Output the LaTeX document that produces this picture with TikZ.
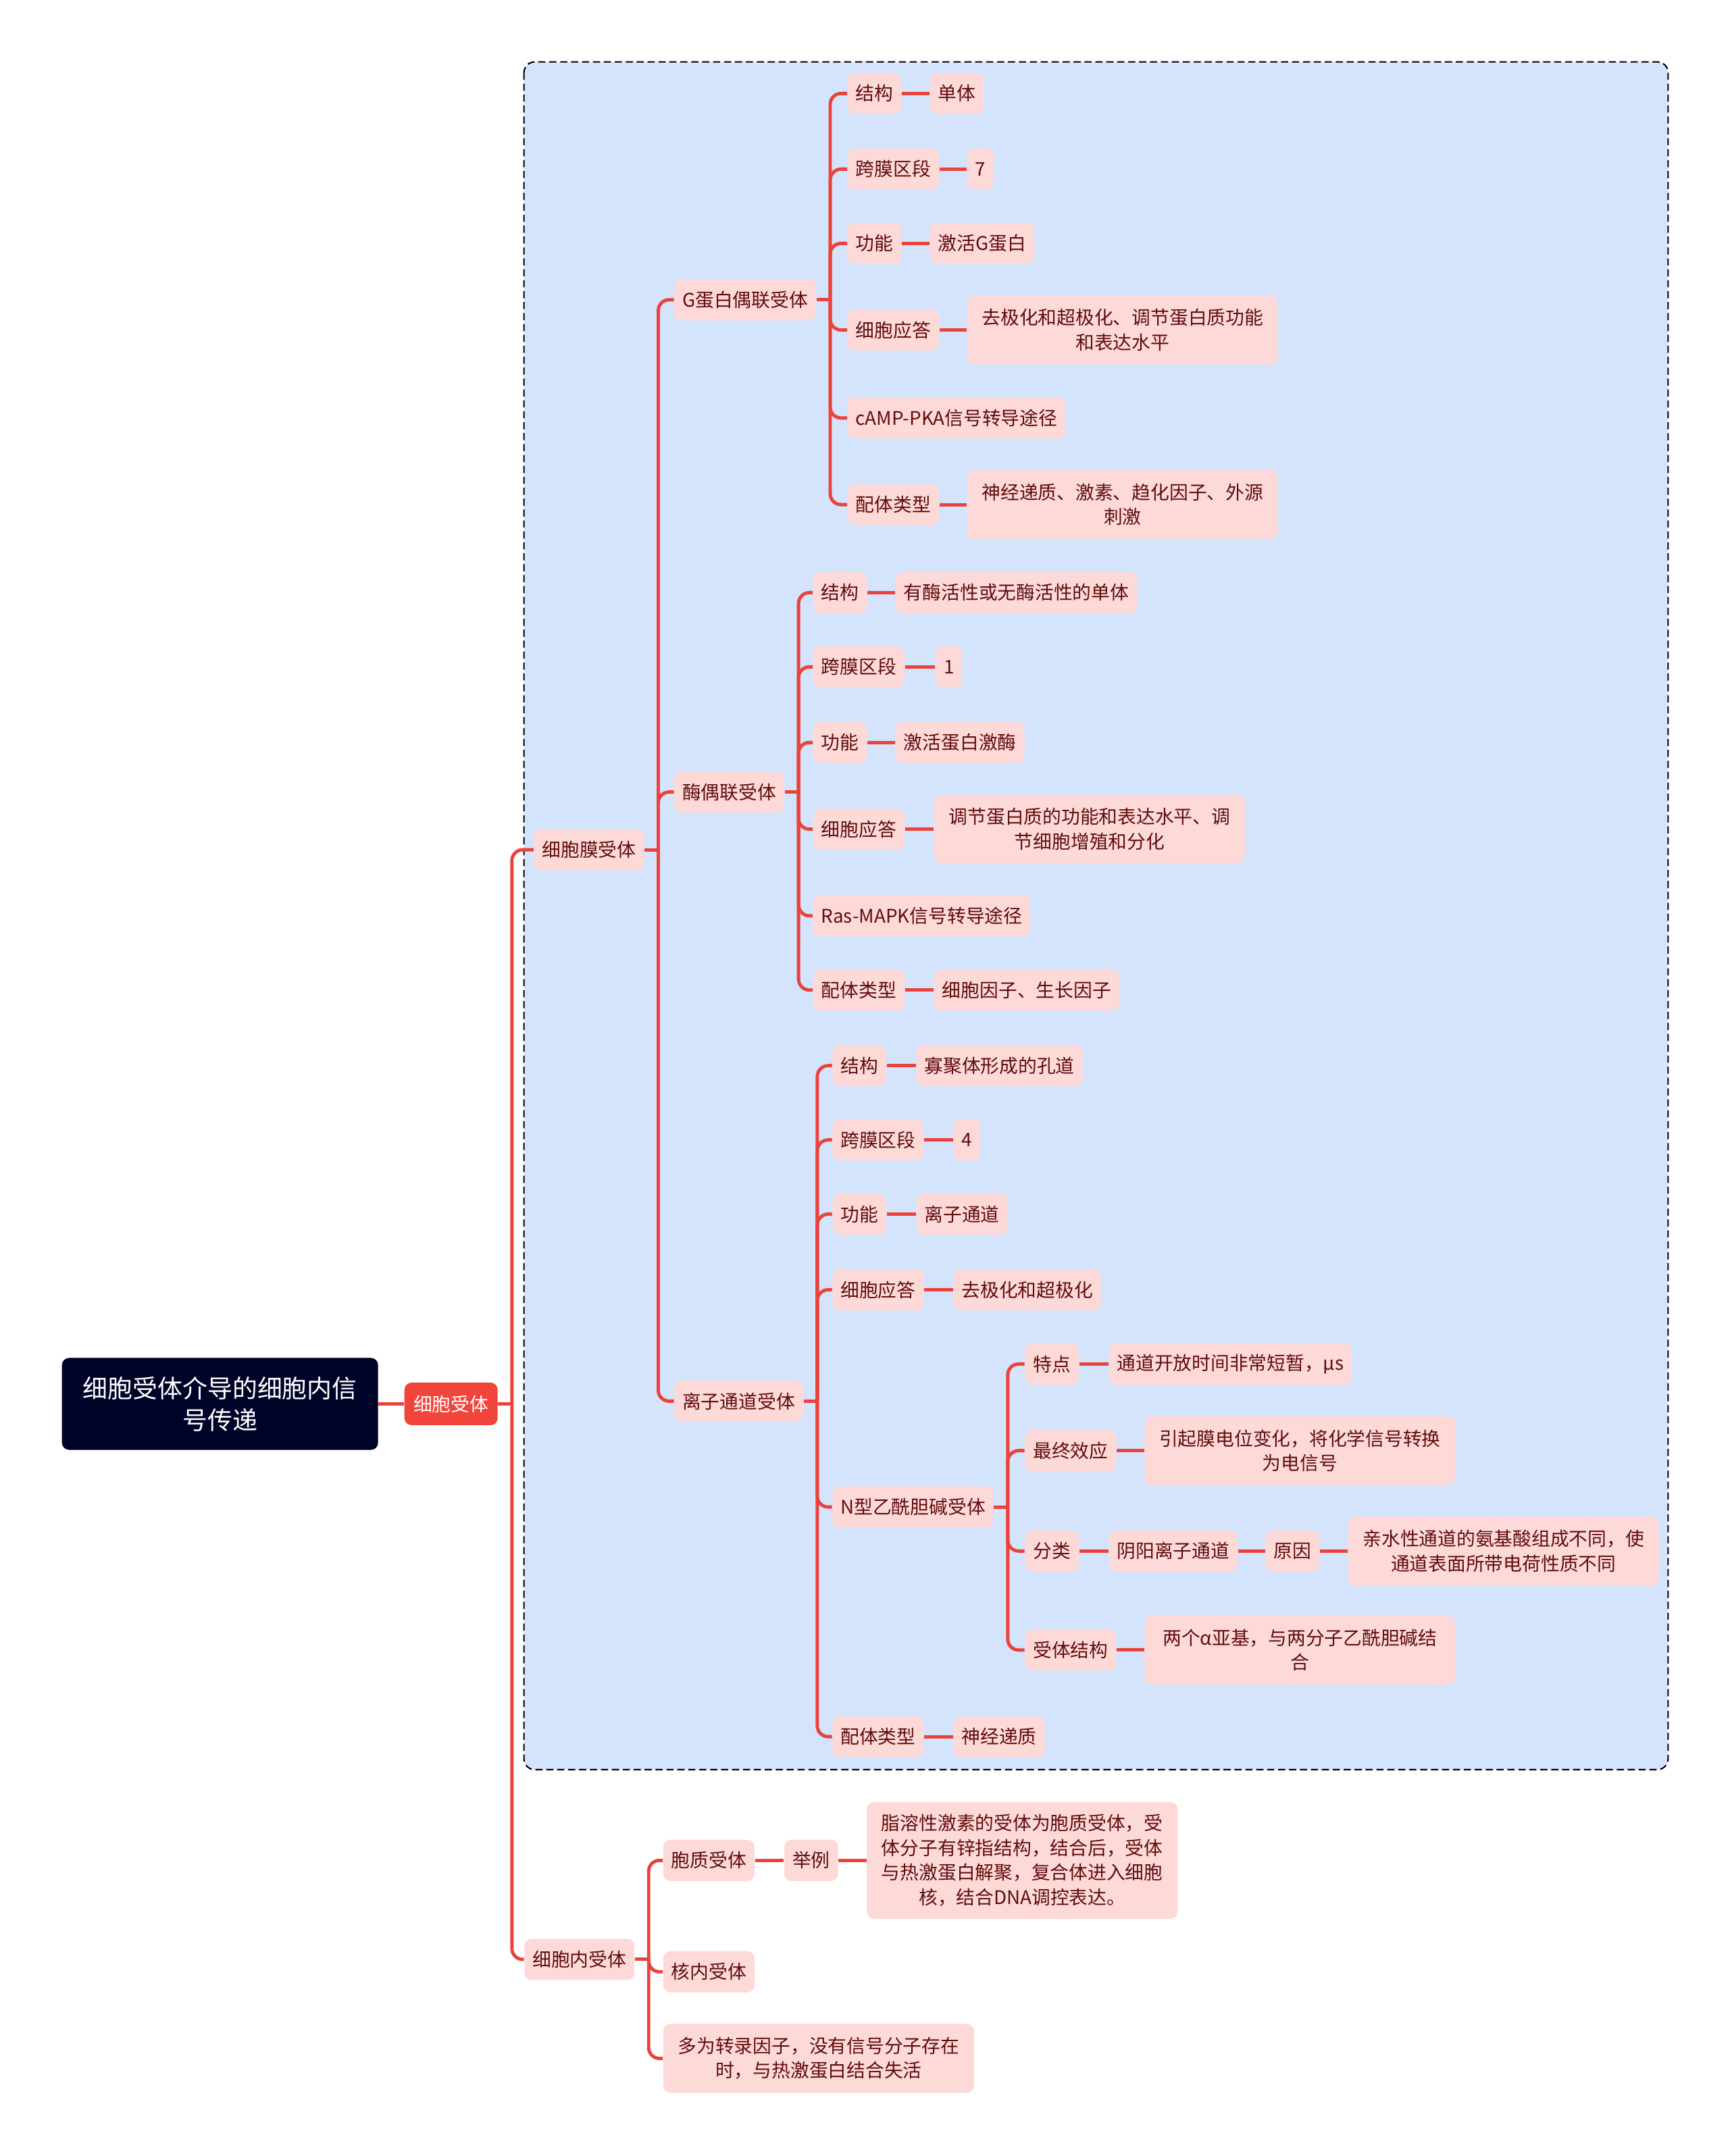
\documentclass[tikz,border=0pt]{standalone}
\usepackage{fontspec}
\newfontfamily\cjk{Noto Sans CJK SC}
\usetikzlibrary{calc}

\definecolor{nodepink}{RGB}{253,218,216}
\definecolor{txtred}{RGB}{96,12,12}
\definecolor{linkred}{RGB}{234,67,59}
\definecolor{hubred}{RGB}{241,68,58}
\definecolor{rootnavy}{RGB}{0,3,40}
\definecolor{bgblue}{RGB}{212,228,252}

\newcommand{\fs}{\cjk\fontsize{7.9pt}{10.4pt}\selectfont}

\tikzset{
  topic/.style={rectangle, rounded corners=3pt, fill=nodepink, text=txtred, font=\fs,
    inner xsep=0.12cm, inner ysep=0pt, minimum height=0.61cm, anchor=west},
  para/.style={topic, align=center, minimum width=4.6cm, minimum height=1.02cm},
  link/.style={draw=linkred, line width=1.4pt},
  elbow/.style={link, rounded corners=0.16cm},
}

\begin{document}
\begin{tikzpicture}[x=0.02035cm, y=-0.02035cm]
  \fill[white] (0,0) rectangle (1258,1568);
  \useasboundingbox (0,0) rectangle (1258,1568);

  % group frame
  \draw[fill=bgblue, rounded corners=0.16cm, line width=0.6pt, dash pattern=on 3pt off 1.6pt]
    (381,45) rectangle (1213,1287);

  % root and hub
  \node[rectangle, rounded corners=3pt, fill=rootnavy, text=white, align=center,
        minimum width=4.68cm, minimum height=1.36cm,
        font=\cjk\fontsize{10.5pt}{13.3pt}\selectfont] (root) at (160,1021)
        {细胞受体介导的细胞内信\\号传递};
  \node[rectangle, rounded corners=3pt, fill=hubred, text=white, font=\fs,
        minimum width=1.38cm, minimum height=0.63cm] (rcp) at (328,1021) {细胞受体};

  % level 1
  \node[topic] (mem) at (388,618) {细胞膜受体};
  \node[topic] (intra) at (381,1425) {细胞内受体};

  % level 2
  \node[topic] (gpcr) at (490,218) {G蛋白偶联受体};
  \node[topic] (enz) at (490,576) {酶偶联受体};
  \node[topic] (ion) at (490,1019) {离子通道受体};

  % G protein coupled
  \node[topic] (g1) at (616,68) {结构};
  \node[topic] (g1v) at (676,68) {单体};
  \node[topic] (g2) at (616,123) {跨膜区段};
  \node[topic] (g2v) at (703,123) {7};
  \node[topic] (g3) at (616,177) {功能};
  \node[topic] (g3v) at (676,177) {激活G蛋白};
  \node[topic] (g4) at (616,240) {细胞应答};
  \node[para] (g4v) at (703,240) {去极化和超极化、调节蛋白质功能\\和表达水平};
  \node[topic] (g5) at (616,304) {cAMP-PKA信号转导途径};
  \node[topic] (g6) at (616,367) {配体类型};
  \node[para] (g6v) at (703,367) {神经递质、激素、趋化因子、外源\\刺激};

  % enzyme coupled
  \node[topic] (e1) at (591,431) {结构};
  \node[topic] (e1v) at (651,431) {有酶活性或无酶活性的单体};
  \node[topic] (e2) at (591,485) {跨膜区段};
  \node[topic] (e2v) at (680,485) {1};
  \node[topic] (e3) at (591,540) {功能};
  \node[topic] (e3v) at (651,540) {激活蛋白激酶};
  \node[topic] (e4) at (591,603) {细胞应答};
  \node[para] (e4v) at (679,603) {调节蛋白质的功能和表达水平、调\\节细胞增殖和分化};
  \node[topic] (e5) at (591,666) {Ras-MAPK信号转导途径};
  \node[topic] (e6) at (591,720) {配体类型};
  \node[topic] (e6v) at (679,720) {细胞因子、生长因子};

  % ion channel
  \node[topic] (i1) at (605,775) {结构};
  \node[topic] (i1v) at (666,775) {寡聚体形成的孔道};
  \node[topic] (i2) at (605,829) {跨膜区段};
  \node[topic] (i2v) at (693,829) {4};
  \node[topic] (i3) at (605,883) {功能};
  \node[topic] (i3v) at (666,883) {离子通道};
  \node[topic] (i4) at (605,938) {细胞应答};
  \node[topic] (i4v) at (693,938) {去极化和超极化};
  \node[topic] (nach) at (605,1096) {N型乙酰胆碱受体};
  \node[topic] (i6) at (605,1263) {配体类型};
  \node[topic] (i6v) at (693,1263) {神经递质};

  % nicotinic receptor
  \node[topic] (n1) at (745,992) {特点};
  \node[topic] (n1v) at (806,992) {通道开放时间非常短暂，μs};
  \node[topic] (n2) at (745,1055) {最终效应};
  \node[para] (n2v) at (832,1055) {引起膜电位变化，将化学信号转换\\为电信号};
  \node[topic] (n3) at (745,1128) {分类};
  \node[topic] (n3v) at (806,1128) {阴阳离子通道};
  \node[topic] (n3r) at (920,1128) {原因};
  \node[para] (n3rv) at (980,1128) {亲水性通道的氨基酸组成不同，使\\通道表面所带电荷性质不同};
  \node[topic] (n4) at (745,1200) {受体结构};
  \node[para] (n4v) at (832,1200) {两个α亚基，与两分子乙酰胆碱结\\合};

  % intracellular
  \node[topic] (c1) at (482,1353) {胞质受体};
  \node[topic] (c1e) at (570,1353) {举例};
  \node[para, minimum height=1.73cm] (c1v) at (630,1353)
    {脂溶性激素的受体为胞质受体，受\\体分子有锌指结构，结合后，受体\\与热激蛋白解聚，复合体进入细胞\\核，结合DNA调控表达。};
  \node[topic] (c2) at (482,1434) {核内受体};
  \node[para] (c3) at (482,1497) {多为转录因子，没有信号分子存在\\时，与热激蛋白结合失活};

  % connectors
  \draw[link] (root.east) -- (rcp.west);
  \foreach \p/\kids in {rcp/{mem,intra}, mem/{gpcr,enz,ion},
      gpcr/{g1,g2,g3,g4,g5,g6}, enz/{e1,e2,e3,e4,e5,e6},
      ion/{i1,i2,i3,i4,nach,i6}, nach/{n1,n2,n3,n4}, intra/{c1,c2,c3}} {
    \path (\p.east) ++(10,0) coordinate (T);
    \draw[link] (\p.east) -- (T);
    \foreach \c in \kids
      \draw[elbow] (T) |- (\c.west);
  }
  \foreach \a/\b in {g1/g1v, g2/g2v, g3/g3v, g4/g4v, g6/g6v,
      e1/e1v, e2/e2v, e3/e3v, e4/e4v, e6/e6v,
      i1/i1v, i2/i2v, i3/i3v, i4/i4v, i6/i6v,
      n1/n1v, n2/n2v, n3/n3v, n3v/n3r, n3r/n3rv, n4/n4v,
      c1/c1e, c1e/c1v}
    \draw[link] (\a.east) -- (\b.west);
\end{tikzpicture}
\end{document}
